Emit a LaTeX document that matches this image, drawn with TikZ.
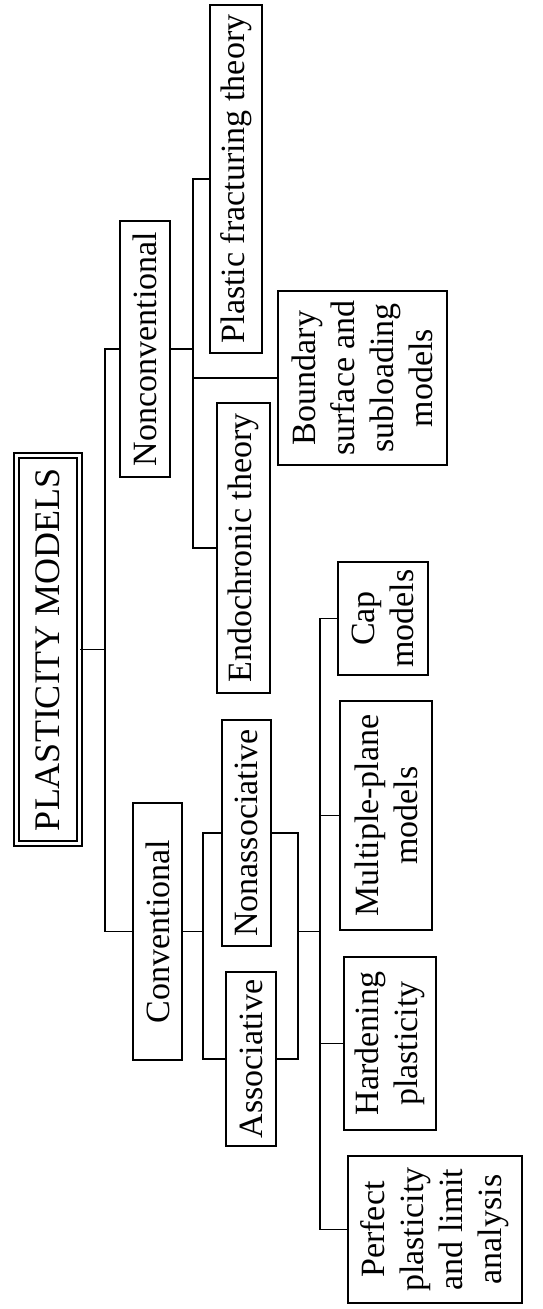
\documentclass[tikz,border=0pt]{standalone}
\usepackage{fontspec}
\setmainfont{Liberation Serif}
\begin{document}
\begin{tikzpicture}[x=1pt,y=-1pt,
  line width=1.6pt,
  box/.style={draw, line width=1.6pt, rotate=90, inner sep=0pt, align=center,
    font=\fontsize{34}{39}\selectfont},
  rootbox/.style={draw, double, double distance=3.5pt, line width=1.4pt,
    rotate=90, inner sep=0pt, font=\fontsize{36}{40}\selectfont},
  link/.style={line width=1.6pt}]
\useasboundingbox (0,0) rectangle (543,1309);

% root
\node[rootbox, minimum width=388pt, minimum height=63pt] (root) at (48,649.5) {PLASTICITY MODELS};

% first level
\node[box, minimum width=256pt, minimum height=50pt] (nonconv) at (145,349) {Nonconventional};
\node[box, minimum width=257pt, minimum height=49pt] (conv) at (157.5,931.5) {Conventional};

% nonconventional branch
\node[box, minimum width=348pt, minimum height=52pt] (pft) at (236,179) {Plastic fracturing theory};
\node[box, minimum width=174pt, minimum height=169pt] (bsm) at (362.5,378) {Boundary\\surface and\\subloading\\models};
\node[box, minimum width=290pt, minimum height=53pt] (endo) at (243.5,548) {Endochronic theory};

% conventional branch
\node[box, minimum width=226pt, minimum height=49pt] (nonassoc) at (246.5,833) {Nonassociative};
\node[box, minimum width=174pt, minimum height=50pt] (assoc) at (251,1059) {Associative};

% model families
\node[box, minimum width=113pt, minimum height=90pt] (cap) at (383,618.5) {Cap\\models};
\node[box, minimum width=229pt, minimum height=92pt] (mpm) at (386,815.5) {Multiple-plane\\models};
\node[box, minimum width=173pt, minimum height=92pt] (hp) at (390,1043.5) {Hardening\\plasticity};
\node[box, minimum width=147pt, minimum height=174pt] (ppla) at (435,1229.5) {Perfect\\plasticity\\and limit\\analysis};

% connectors
\coordinate (t0) at (105,649.5);
\draw[link] (root.south) -- (t0);
\draw[link] (nonconv.north) -| (t0) |- (conv.north);

\coordinate (t1) at (193,349);
\draw[link] (nonconv.south) -- (t1);
\draw[link] (pft.north) -| (t1) |- (endo.north);
\draw[link] (bsm.north) -- (bsm.north -| t1);

\coordinate (t2) at (203,931.5);
\draw[link] (conv.south) -- (t2);
\draw[link] (nonassoc.north) -| (t2) |- (assoc.north);

\coordinate (t3) at (298,931.5);
\coordinate (t4) at (320,931.5);
\draw[link] (nonassoc.south) -| (t3) |- (assoc.south);
\draw[link] (t3) -- (t4);
\draw[link] (cap.north) -| (t4) |- (ppla.north);
\draw[link] (mpm.north) -- (mpm.north -| t4);
\draw[link] (hp.north) -- (hp.north -| t4);
\end{tikzpicture}
\end{document}
